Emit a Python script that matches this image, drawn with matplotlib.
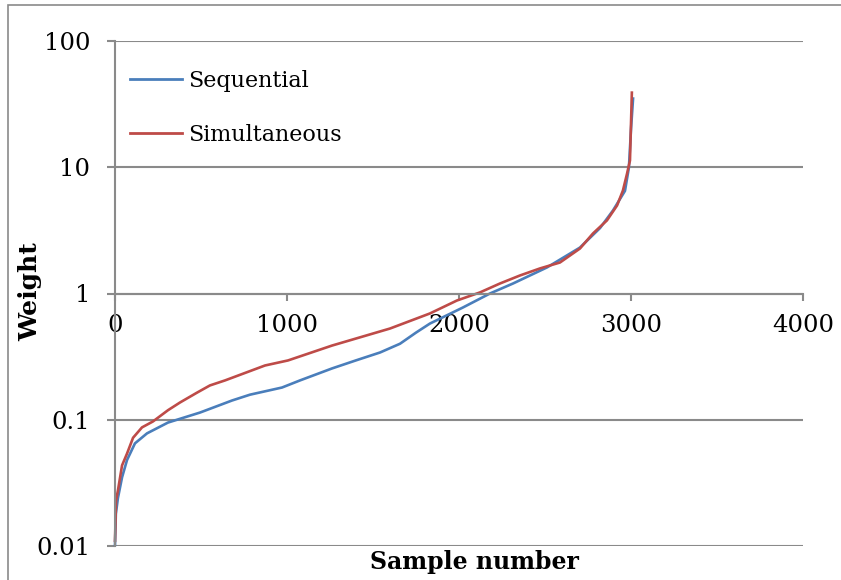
import matplotlib
matplotlib.use("Agg")
import matplotlib.pyplot as plt
from matplotlib.patches import Rectangle
from matplotlib.ticker import FixedLocator, NullLocator

# Data
seq_x = [0, 5, 17, 41, 70, 116, 186, 308, 494, 680, 785, 971, 1076, 1262, 1400, 1541,
         1657, 1750, 1831, 2023, 2180, 2314, 2512, 2703, 2820, 2895, 2965, 2988, 3000, 3012]
seq_y = [0.0102, 0.018, 0.024, 0.035, 0.048, 0.065, 0.078, 0.095, 0.114, 0.142, 0.158,
         0.180, 0.205, 0.255, 0.295, 0.341, 0.40, 0.49, 0.578, 0.775, 1.0, 1.2, 1.61, 2.31,
         3.3, 4.54, 6.5, 10, 20, 35]

sim_x = [0, 6, 17, 41, 70, 105, 157, 221, 308, 378, 477, 552, 640, 872, 1006, 1262,
         1599, 1831, 1988, 2122, 2238, 2355, 2471, 2587, 2703, 2779, 2860, 2919, 2953,
         2977, 2994, 3005]
sim_y = [0.011, 0.023, 0.0275, 0.0435, 0.054, 0.072, 0.087, 0.097, 0.119, 0.137, 0.164,
         0.187, 0.205, 0.269, 0.295, 0.387, 0.528, 0.695, 0.88, 1.02, 1.2, 1.39, 1.58,
         1.76, 2.27, 2.99, 3.79, 4.98, 6.54, 8.9, 11.3, 39]

x_ticks = [0, 1000, 2000, 3000, 4000]
y_ticks = [0.01, 0.1, 1, 10, 100]
y_tick_labels = ["0.01", "0.1", "1", "10", "100"]
series_names = ["Sequential", "Simultaneous"]

W, H = 841, 580
fig = plt.figure(figsize=(W / 100, H / 100), dpi=100)
ax = fig.add_axes([115 / W, 1 - 546 / H, (803 - 115) / W, (546 - 41) / H])

gray = "#8a8a8a"
ax.plot(seq_x, seq_y, color="#4A7EBB", lw=1.9, label=series_names[0], clip_on=False)
ax.plot(sim_x, sim_y, color="#BE4B48", lw=1.9, label=series_names[1], clip_on=False)

ax.set_yscale("log")
ax.set_xlim(0, 4000)
ax.set_ylim(0.01, 100)
ax.yaxis.set_major_locator(FixedLocator(y_ticks))
ax.yaxis.set_minor_locator(NullLocator())
ax.set_yticklabels(y_tick_labels)
ax.xaxis.set_major_locator(FixedLocator(x_ticks))
ax.set_xticklabels([str(v) for v in x_ticks])

ax.grid(axis="y", color=gray, lw=1.5)
ax.set_axisbelow(True)
for s in ["top", "right"]:
    ax.spines[s].set_visible(False)
ax.spines["bottom"].set_position(("data", 1))
ax.spines["bottom"].set_color(gray)
ax.spines["bottom"].set_linewidth(1.5)
ax.spines["left"].set_color(gray)
ax.spines["left"].set_linewidth(1.5)

tickfont = "DejaVu Serif"
ax.tick_params(axis="y", direction="out", length=6, width=1.5, color=gray, pad=12,
               labelsize=17.5)
ax.tick_params(axis="x", direction="out", length=5, width=1.5, color=gray, pad=10,
               labelsize=17.5)
for lbl in ax.get_xticklabels() + ax.get_yticklabels():
    lbl.set_family(tickfont)

fig.text(30 / W, 1 - 292 / H, "Weight", rotation=90, ha="center", va="center",
         family=tickfont, fontweight="bold", fontsize=18)
fig.text(474 / W, 1 - 562 / H, "Sample number", ha="center", va="center",
         family=tickfont, fontweight="bold", fontsize=17)

leg = ax.legend(loc="upper left", bbox_to_anchor=(130 / W, 1 - 70 / H),
                bbox_transform=fig.transFigure, frameon=False, borderpad=0,
                borderaxespad=0, handlelength=2.35, handletextpad=0.25,
                labelspacing=1.45, prop={"family": tickfont, "size": 16})
for line in leg.get_lines():
    line.set_linewidth(2)

frame = Rectangle((7.5 / W, -0.1), 2, (H - 5) / H + 0.1, transform=fig.transFigure,
                  fill=False, edgecolor=gray, lw=1.2, clip_on=False)
fig.patches.append(frame)

fig.savefig("out.png", dpi=100)
